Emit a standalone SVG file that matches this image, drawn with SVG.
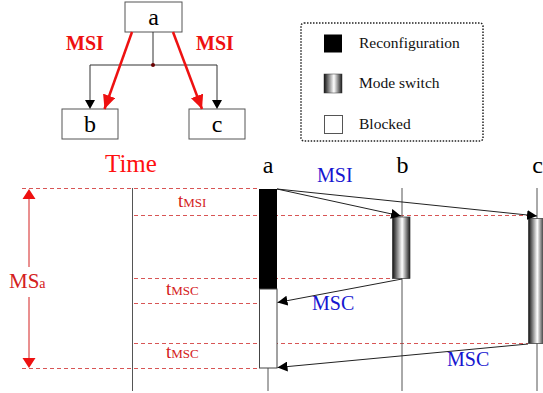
<svg xmlns="http://www.w3.org/2000/svg" width="543" height="393" viewBox="0 0 543 393">
<defs>
<linearGradient id="ms" x1="0" y1="0" x2="1" y2="0">
<stop offset="0" stop-color="#111"/>
<stop offset="0.55" stop-color="#fff"/>
<stop offset="1" stop-color="#1a1a1a"/>
</linearGradient>
<marker id="ah" markerWidth="10" markerHeight="10" viewBox="0 0 10 10" refX="10" refY="5" orient="auto" markerUnits="userSpaceOnUse">
<path d="M0,0 L10,5 L0,10 Z" fill="#000"/>
</marker>
<marker id="rh" markerWidth="14" markerHeight="13" viewBox="0 0 14 13" refX="14" refY="6.5" orient="auto" markerUnits="userSpaceOnUse">
<path d="M0,0 L14,6.5 L0,13 Z" fill="#ee1111"/>
</marker>
</defs>
<style>
text{font-family:"Liberation Serif","Times New Roman",serif}
.box{fill:#fff;stroke:#555;stroke-width:1}
.tree{fill:none;stroke:#333;stroke-width:1}
.red{fill:none;stroke:#ee1111;stroke-width:2.5}
.dash{stroke:#d85555;stroke-width:1;stroke-dasharray:4,3;fill:none}
.life{stroke:#555;stroke-width:1}
.msg{stroke:#222;stroke-width:1;fill:none}
.lbl{font-size:24px;fill:#000;text-anchor:middle}
.msi{font-size:20px;font-weight:bold;fill:#ee1111}
.blue{font-size:20px;fill:#1515d0}
.rt{fill:#d42020}
.leg{font-size:15.5px;fill:#111}
</style>

<g id="node-a"><rect class="box" x="125" y="2" width="57" height="30"/><text class="lbl" x="153.5" y="25">a</text></g>
<g id="node-b"><rect class="box" x="62" y="109" width="56" height="30"/><text class="lbl" x="90" y="132">b</text></g>
<g id="node-c"><rect class="box" x="189" y="109" width="56" height="30"/><text class="lbl" x="217" y="132">c</text></g>

<g id="tree-connectors">
<path class="tree" d="M153,32 V65 M90,65 H217 M90,65 V101 M217,65 V101"/>
<path d="M85,100 L95,100 L90,109 Z M212,100 L222,100 L217,109 Z" fill="#000"/>
<circle cx="153" cy="65" r="2" fill="#6a0000"/>
<line class="red" x1="132" y1="32" x2="104.5" y2="109" marker-end="url(#rh)"/>
<line class="red" x1="173" y1="32" x2="202" y2="109" marker-end="url(#rh)"/>
<text class="msi" x="66" y="50">MSI</text>
<text class="msi" x="196" y="50">MSI</text>
</g>

<g id="legend">
<rect x="301" y="23" width="182" height="118" rx="3" fill="none" stroke="#222" stroke-width="1.5" stroke-dasharray="1.5,1.5"/>
<rect x="324" y="34.5" width="18" height="18" fill="#000"/>
<text class="leg" x="359" y="48">Reconfiguration</text>
<rect x="324" y="74" width="18" height="19" fill="url(#ms)" stroke="#333" stroke-width="0.5"/>
<text class="leg" x="359" y="88">Mode switch</text>
<rect x="324.5" y="115.5" width="18" height="18" fill="#fff" stroke="#555" stroke-width="1"/>
<text class="leg" x="359" y="129">Blocked</text>
</g>

<g id="time-axis">
<text x="105" y="172" font-size="25" fill="#ff1010">Time</text>
<line class="life" x1="132.5" y1="188" x2="132.5" y2="391"/>
</g>

<g id="dashes">
<line class="dash" x1="22" y1="188.5" x2="259" y2="188.5"/>
<line class="dash" x1="134" y1="215.5" x2="528" y2="215.5"/>
<line class="dash" x1="134" y1="278.5" x2="393" y2="278.5"/>
<line class="dash" x1="134" y1="303.5" x2="259" y2="303.5"/>
<line class="dash" x1="134" y1="343.5" x2="528" y2="343.5"/>
<line class="dash" x1="22" y1="368.5" x2="259" y2="368.5"/>
</g>

<g id="msa">
<line x1="29" y1="197" x2="29" y2="267" stroke="#d42020" stroke-width="1"/>
<line x1="29" y1="297" x2="29" y2="359" stroke="#d42020" stroke-width="1"/>
<path d="M29,189 L35.5,199 L22.5,199 Z M29,368 L35.5,358 L22.5,358 Z" fill="#ee1111"/>
<text class="rt" x="9" y="288" font-size="21">MS<tspan font-size="14">a</tspan></text>
</g>

<g id="t-labels">
<text class="rt" x="178" y="207" font-size="19">t<tspan font-size="13">MSI</tspan></text>
<text class="rt" x="166" y="295" font-size="19">t<tspan font-size="13">MSC</tspan></text>
<text class="rt" x="166" y="358" font-size="19">t<tspan font-size="13">MSC</tspan></text>
</g>

<g id="lifeline-a">
<text class="lbl" x="268" y="173">a</text>
<line class="life" x1="268" y1="368" x2="268" y2="391"/>
<rect x="259" y="189" width="18" height="100" fill="#000"/>
<rect x="259.5" y="289" width="17.5" height="79" fill="#fff" stroke="#444" stroke-width="1"/>
</g>
<g id="lifeline-b">
<text class="lbl" x="402.5" y="173">b</text>
<line class="life" x1="402" y1="188" x2="402" y2="391"/>
<rect x="392.5" y="217" width="17.5" height="61.5" fill="url(#ms)" stroke="#333" stroke-width="0.7"/>
</g>
<g id="lifeline-c">
<text class="lbl" x="537.5" y="173">c</text>
<line class="life" x1="537" y1="188" x2="537" y2="391"/>
<rect x="528.5" y="218.5" width="16" height="125" fill="url(#ms)" stroke="#333" stroke-width="0.7"/>
</g>

<g id="messages">
<line class="msg" x1="277" y1="189" x2="401" y2="216" marker-end="url(#ah)"/>
<line class="msg" x1="277" y1="189" x2="537" y2="216" marker-end="url(#ah)"/>
<line class="msg" x1="402" y1="279" x2="277.5" y2="302.5" marker-end="url(#ah)"/>
<line class="msg" x1="528" y1="344" x2="277.5" y2="367.5" marker-end="url(#ah)"/>
<text class="blue" x="317" y="182">MSI</text>
<text class="blue" x="312" y="310" font-size="21">MSC</text>
<text class="blue" x="447" y="366" font-size="21">MSC</text>
</g>
</svg>
